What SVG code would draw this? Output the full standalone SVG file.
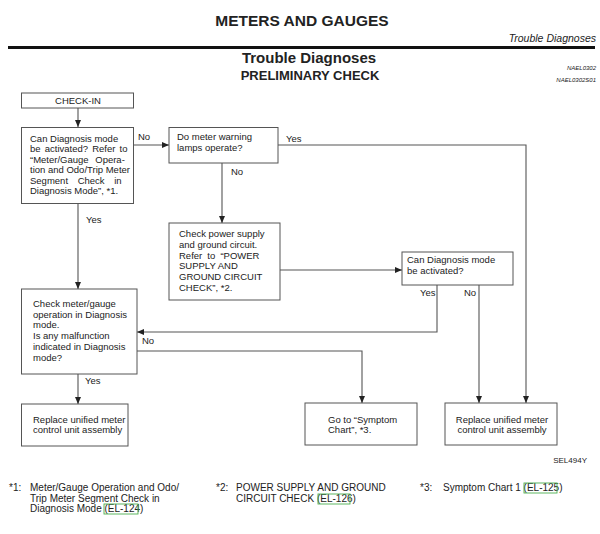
<svg xmlns="http://www.w3.org/2000/svg" width="600" height="534" viewBox="0 0 600 534">
<style>
text{font-family:"Liberation Sans",Arial,sans-serif;fill:#222}
.t{font-size:9.5px}
.l{font-size:9.5px}
.box{fill:#fff;stroke:#555;stroke-width:1}
.c{fill:none;stroke:#555;stroke-width:1.1}
.fn{font-size:10px}
.lnk{fill:none;stroke:#4caf50;stroke-width:0.9}
</style>
<defs>
<marker id="ah" markerUnits="userSpaceOnUse" markerWidth="8" markerHeight="7" refX="7" refY="3" orient="auto">
<path d="M0,0 L7,3 L0,6 z" fill="#222"/>
</marker>
</defs>
<rect width="600" height="534" fill="#fff"/>
<g id="header">
<text x="302" y="26" text-anchor="middle" font-size="15.5" font-weight="bold">METERS AND GAUGES</text>
<text x="596" y="42" text-anchor="end" font-size="10.5" font-style="italic">Trouble Diagnoses</text>
<rect x="8" y="46" width="587" height="3" fill="#111"/>
<text x="309" y="63" text-anchor="middle" font-size="15" font-weight="bold">Trouble Diagnoses</text>
<text x="310" y="80" text-anchor="middle" font-size="13" font-weight="bold">PRELIMINARY CHECK</text>
<text x="596" y="70" text-anchor="end" font-size="6" font-style="italic">NAEL0302</text>
<text x="596" y="82" text-anchor="end" font-size="6" font-style="italic">NAEL0302S01</text>
</g>
<g id="connectors">
<path class="c" d="M78,108 V127" marker-end="url(#ah)"/>
<path class="c" d="M133,145 H169" marker-end="url(#ah)"/>
<path class="c" d="M222,163 V223" marker-end="url(#ah)"/>
<path class="c" d="M278,145 H526 V403" marker-end="url(#ah)"/>
<path class="c" d="M280,270 H402" marker-end="url(#ah)"/>
<path class="c" d="M437,285 V332 H137" marker-end="url(#ah)"/>
<path class="c" d="M479,285 V403" marker-end="url(#ah)"/>
<path class="c" d="M78,203 V289" marker-end="url(#ah)"/>
<path class="c" d="M137,351 H362 V403" marker-end="url(#ah)"/>
<path class="c" d="M78,374 V404" marker-end="url(#ah)"/>
<text class="l" x="138" y="140">No</text>
<text class="l" x="286" y="142">Yes</text>
<text class="l" x="231" y="175">No</text>
<text class="l" x="420" y="296">Yes</text>
<text class="l" x="464" y="296">No</text>
<text class="l" x="86" y="223">Yes</text>
<text class="l" x="142" y="344">No</text>
<text class="l" x="85" y="384">Yes</text>
</g>
<g id="checkin">
<rect class="box" x="21.5" y="93" width="112" height="15"/>
<text class="t" x="78" y="104" text-anchor="middle">CHECK-IN</text>
</g>
<g id="canDiag1">
<rect class="box" x="21.5" y="127.5" width="112" height="76"/>
<text class="t" x="30" y="141.5">Can Diagnosis mode</text>
<text class="t" x="30" y="152" word-spacing="1.5">be activated? Refer to</text>
<text class="t" x="30" y="162.5" word-spacing="4">“Meter/Gauge Opera-</text>
<text class="t" x="30" y="173">tion and Odo/Trip Meter</text>
<text class="t" x="30" y="183.5" word-spacing="7">Segment Check in</text>
<text class="t" x="30" y="194">Diagnosis Mode”, *1.</text>
</g>
<g id="lamps">
<rect class="box" x="169" y="127.5" width="109" height="35.5"/>
<text class="t" x="177" y="140">Do meter warning</text>
<text class="t" x="177" y="150.5">lamps operate?</text>
</g>
<g id="power">
<rect class="box" x="169" y="223" width="111" height="77"/>
<text class="t" x="179" y="237">Check power supply</text>
<text class="t" x="179" y="248">and ground circuit.</text>
<text class="t" x="179" y="258.5" word-spacing="2.5">Refer to “POWER</text>
<text class="t" x="179" y="269">SUPPLY AND</text>
<text class="t" x="179" y="280">GROUND CIRCUIT</text>
<text class="t" x="179" y="290.5">CHECK”, *2.</text>
</g>
<g id="canDiag2">
<rect class="box" x="402" y="252" width="111" height="33"/>
<text class="t" x="407" y="263">Can Diagnosis mode</text>
<text class="t" x="407" y="274">be activated?</text>
</g>
<g id="checkMeter">
<rect class="box" x="21.5" y="289" width="115.5" height="85"/>
<text class="t" x="33" y="306.5">Check meter/gauge</text>
<text class="t" x="33" y="317.5">operation in Diagnosis</text>
<text class="t" x="33" y="328">mode.</text>
<text class="t" x="33" y="339">Is any malfunction</text>
<text class="t" x="33" y="350">indicated in Diagnosis</text>
<text class="t" x="33" y="361">mode?</text>
</g>
<g id="replace1">
<rect class="box" x="21.5" y="404" width="106.5" height="42"/>
<text class="t" x="33" y="422.5">Replace unified meter</text>
<text class="t" x="33" y="433">control unit assembly</text>
</g>
<g id="symptom">
<rect class="box" x="305" y="403" width="112" height="42"/>
<text class="t" x="328" y="422.5">Go to “Symptom</text>
<text class="t" x="328" y="433">Chart”, *3.</text>
</g>
<g id="replace2">
<rect class="box" x="445" y="403" width="112" height="42"/>
<text class="t" x="502" y="422.5" text-anchor="middle">Replace unified meter</text>
<text class="t" x="502" y="433" text-anchor="middle">control unit assembly</text>
</g>
<g id="footer">
<text x="587" y="463" text-anchor="end" font-size="8">SEL494Y</text>
<text class="fn" x="9" y="491">*1:</text>
<text class="fn" x="30" y="491">Meter/Gauge Operation and Odo/</text>
<text class="fn" x="30" y="501.5">Trip Meter Segment Check in</text>
<text class="fn" x="30" y="512">Diagnosis Mode (EL-124)</text>
<rect class="lnk" x="104" y="504" width="34" height="10"/>
<text class="fn" x="216" y="491">*2:</text>
<text class="fn" x="236" y="491">POWER SUPPLY AND GROUND</text>
<text class="fn" x="236" y="501.5">CIRCUIT CHECK (EL-126)</text>
<rect class="lnk" x="318" y="494" width="32" height="10"/>
<text class="fn" x="420" y="491">*3:</text>
<text class="fn" x="443" y="491">Symptom Chart 1 (EL-125)</text>
<rect class="lnk" x="524" y="483" width="33" height="10"/>
</g>
</svg>
